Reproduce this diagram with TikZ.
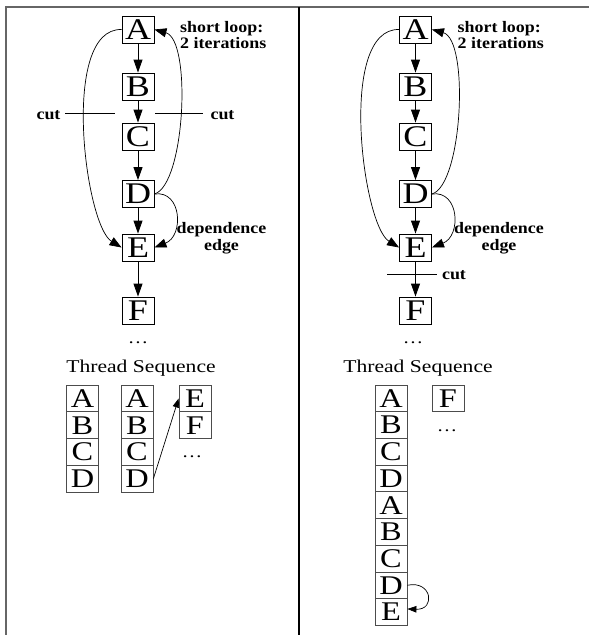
\documentclass[tikz,border=0pt]{standalone}
\usepackage{fontspec}
\setmainfont{Liberation Serif}
\newfontfamily\boxfont[FakeStretch=1.2]{Liberation Serif}
\newfontfamily\seqfont[FakeStretch=1.2]{Liberation Serif}
\newfontfamily\lblfont[FakeStretch=1.12]{Liberation Serif Bold}
\usetikzlibrary{arrows.meta}
\tikzset{
  box/.style={draw, line width=0.9pt, minimum width=32pt, minimum height=27pt, inner sep=0pt, font=\boxfont\fontsize{30}{30}\selectfont},
  cell/.style={draw=black!70, line width=0.8pt, minimum width=32pt, minimum height=26.7pt, inner sep=0pt, font=\boxfont\fontsize{27}{27}\selectfont},
  lbl/.style={font=\lblfont\fontsize{16}{16}\selectfont, inner sep=0pt, anchor=base},
  lblw/.style={font=\lblfont\fontsize{16}{16}\selectfont, inner sep=0pt, anchor=base west},
  title/.style={font=\seqfont\fontsize{18}{18}\selectfont, inner sep=0pt, anchor=base},
  dots/.style={font=\seqfont\fontsize{17}{17}\selectfont, inner sep=0pt, anchor=base},
  arr/.style={-{Triangle[length=13pt,width=9pt]}, line width=0.9pt},
  curvearr/.style={-{Triangle[length=12pt,width=9pt]}, line width=0.7pt},
  smallarr/.style={-{Triangle[length=9pt,width=6.5pt]}, line width=0.7pt},
  cutline/.style={line width=0.8pt},
}
\begin{document}
\begin{tikzpicture}[x=1pt,y=-1pt]
\useasboundingbox (0,0) rectangle (589,635);
\fill[white] (0,0) rectangle (589,635);
% frame
\draw[black!60, line width=1.5pt] (5,7) -- (589,7);
\draw[black!60, line width=2pt] (5.5,7) -- (5.5,635);
\draw[black, line width=2.5pt] (299,7) -- (299,635);

% ---------- left panel ----------
\node[box] (A) at (138,29.5) {A};
\node[box] (B) at (138,86.5) {B};
\node[box] (C) at (138,136.5) {C};
\node[box] (D) at (138,194) {D};
\node[box] (E) at (138,247.5) {E};
\node[box] (F) at (138,310.5) {F};
\draw[arr] (A) -- (B);
\draw[arr] (B) -- (C);
\draw[arr] (C) -- (D);
\draw[arr] (D) -- (E);
\draw[arr] (E) -- (F);
\draw[curvearr] (A.west) .. controls (60,28) and (85,225) .. (E.west);
\draw[curvearr] (D.east) .. controls (185,185) and (192,40) .. (A.east);
\draw[curvearr] (D.east) .. controls (182,190) and (184,236) .. (E.east);
\node[lblw] (loopL1) at (180,32.5) {short loop:};
\node[lblw] (loopL2) at (180,48) {2 iterations};
\node[lbl] (depL1) at (221.5,233.5) {dependence};
\node[lbl] (depL2) at (221.5,250) {edge};
\node[lbl] (cutL1) at (48.5,119) {cut};
\node[lbl] (cutL2) at (222.5,119) {cut};
\coordinate (c1a) at (65,113);
\coordinate (c1b) at (115,113);
\coordinate (c2a) at (155,113);
\coordinate (c2b) at (203,113);
\draw[cutline] (c1a) -- (c1b);
\draw[cutline] (c2a) -- (c2b);
\node[dots] (dotsL) at (138,343.5) {…};
\node[title] (tsL) at (141,372) {Thread Sequence};
% thread sequence left
\node[cell] (s1A) at (82.5,398.5) {A};
\node[cell] (s1B) at (82.5,425.2) {B};
\node[cell] (s1C) at (82.5,451.9) {C};
\node[cell] (s1D) at (82.5,478.6) {D};
\node[cell] (s2A) at (137,398.5) {A};
\node[cell] (s2B) at (137,425.2) {B};
\node[cell] (s2C) at (137,451.9) {C};
\node[cell] (s2D) at (137,478.6) {D};
\node[cell] (s3E) at (195,398.5) {E};
\node[cell] (s3F) at (195,425.2) {F};
\node[dots] (dotsL2) at (192,457.5) {…};
\draw[smallarr] (s2D.east) -- (s3E.west);

% ---------- right panel ----------
\node[box] (RA) at (415.5,29.5) {A};
\node[box] (RB) at (415.5,86.5) {B};
\node[box] (RC) at (415.5,136.5) {C};
\node[box] (RD) at (415.5,194) {D};
\node[box] (RE) at (415.5,247.5) {E};
\node[box] (RF) at (415.5,310.5) {F};
\draw[arr] (RA) -- (RB);
\draw[arr] (RB) -- (RC);
\draw[arr] (RC) -- (RD);
\draw[arr] (RD) -- (RE);
\draw[arr] (RE) -- (RF);
\draw[curvearr] (RA.west) .. controls (337.5,28) and (362.5,225) .. (RE.west);
\draw[curvearr] (RD.east) .. controls (462.5,185) and (469.5,40) .. (RA.east);
\draw[curvearr] (RD.east) .. controls (459.5,190) and (461.5,236) .. (RE.east);
\node[lblw] (loopR1) at (457.5,32.5) {short loop:};
\node[lblw] (loopR2) at (457.5,48) {2 iterations};
\node[lbl] (depR1) at (499,233.5) {dependence};
\node[lbl] (depR2) at (499,250) {edge};
\node[lbl] (cutR) at (454,279) {cut};
\coordinate (c3a) at (387,274);
\coordinate (c3b) at (437,274);
\draw[cutline] (c3a) -- (c3b);
\node[dots] (dotsR) at (413,343.5) {…};
\node[title] (tsR) at (418,372) {Thread Sequence};
% thread sequence right
\node[cell] (r1) at (391,398.35) {A};
\node[cell] (r2) at (391,425.05) {B};
\node[cell] (r3) at (391,451.75) {C};
\node[cell] (r4) at (391,478.45) {D};
\node[cell] (r5) at (391,505.15) {A};
\node[cell] (r6) at (391,531.85) {B};
\node[cell] (r7) at (391,558.55) {C};
\node[cell] (r8) at (391,585.25) {D};
\node[cell] (r9) at (391,611.95) {E};
\node[cell] (rF) at (448,398.5) {F};
\node[dots] (dotsR2) at (447,431.5) {…};
\draw[smallarr] (r8.east) .. controls (432,580) and (436,610) .. ([yshift=3pt]r9.east);
\end{tikzpicture}
\end{document}
